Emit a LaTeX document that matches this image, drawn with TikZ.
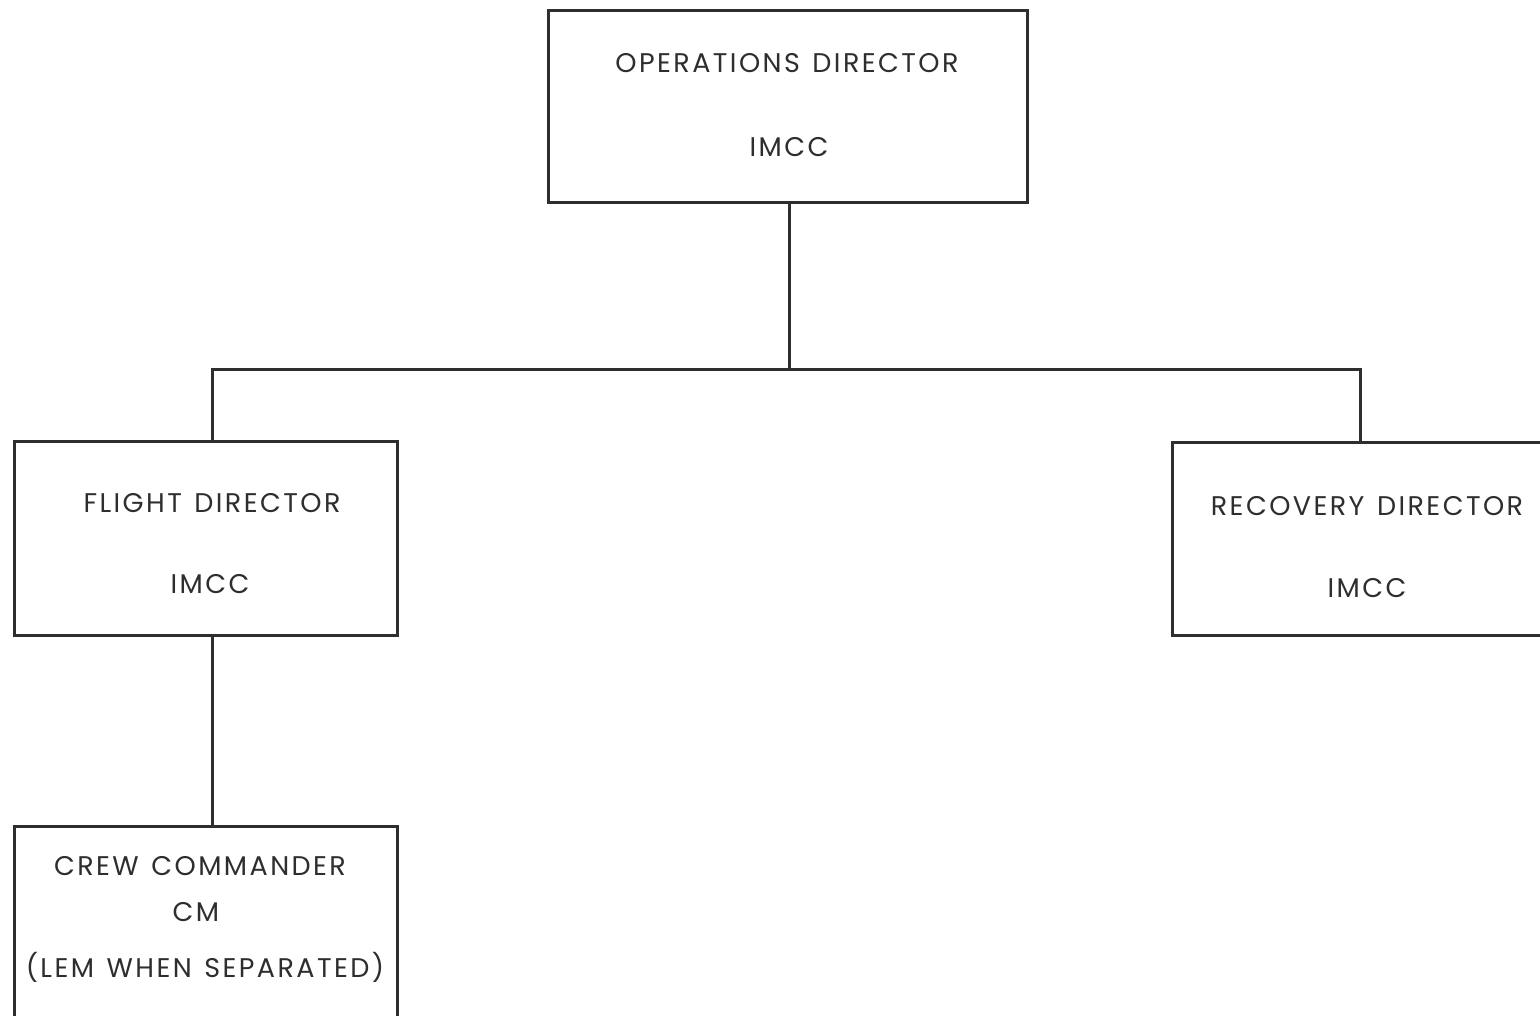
\documentclass[tikz,border=0pt]{standalone}
\usepackage{fontspec}
\setmainfont{Poppins}[LetterSpace=9,WordSpace=1.3]
\definecolor{ink}{HTML}{2E2E2E}
\begin{document}
\begin{tikzpicture}[x=1pt,y=-1pt,
  box/.style={draw=ink,line width=3pt,rectangle,inner sep=0pt},
  lbl/.style={anchor=base,inner sep=0pt,text=ink,font=\fontsize{27}{32}\selectfont},
  conn/.style={draw=ink,line width=3pt}]
\useasboundingbox (0,0) rectangle (1540,1016);
\clip (0,0) rectangle (1540,1016);
\fill[white] (0,0) rectangle (1540,1016);
% boxes
\node[box,minimum width=479pt,minimum height=192pt] (od) at (787.5,107) {};
\node[box,minimum width=383pt,minimum height=194pt] (fd) at (205.5,538) {};
\node[box,minimum width=390pt,minimum height=193pt] (rd) at (1367,538.5) {};
\node[box,minimum width=383pt,minimum height=200pt] (cc) at (205.5,926) {};
% texts
\node[lbl] (od1) at (787,73) {OPERATIONS DIRECTOR};
\node[lbl] (od2) at (789,157) {IMCC};
\node[lbl] (fd1) at (212,512) {FLIGHT DIRECTOR};
\node[lbl] (fd2) at (210,593) {IMCC};
\node[lbl] (rd1) at (1367,515) {RECOVERY DIRECTOR};
\node[lbl] (rd2) at (1367,597) {IMCC};
\node[lbl] (cc1) at (200,875) {CREW COMMANDER};
\node[lbl] (cc2) at (196,921) {CM};
\node[lbl] (cc3) at (205,977) {(LEM WHEN SEPARATED)};
% connectors
\coordinate (j) at (789,370);
\coordinate (jl) at (212,370);
\coordinate (jr) at (1360,370);
\draw[conn] (od.south -| j) -- (j);
\draw[conn,line cap=rect] (jl) -- (jr);
\draw[conn] (jl) -- (jl |- fd.north);
\draw[conn] (jr) -- (jr |- rd.north);
\draw[conn] (fd.south -| jl) -- (cc.north -| jl);
\end{tikzpicture}
\end{document}
